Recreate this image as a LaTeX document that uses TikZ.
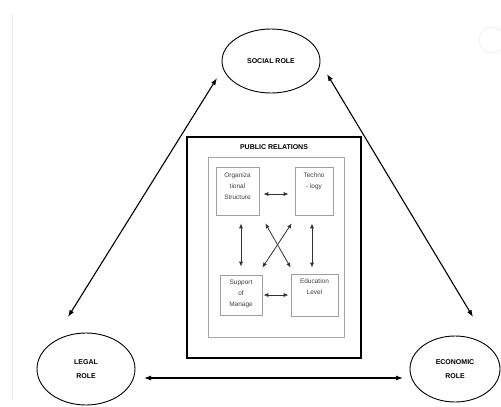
\documentclass[tikz,border=0pt]{standalone}
\usepackage{fontspec}
\setmainfont{Liberation Sans}
\usetikzlibrary{shapes.geometric,arrows.meta}

\tikzset{
  role/.style={draw,ellipse,line width=0.9pt,inner sep=0pt,align=center,
    font=\bfseries\fontsize{7}{14}\selectfont},
  frame/.style={draw,line width=1.4pt,inner sep=0pt},
  panel/.style={draw=gray!70,line width=0.9pt,inner sep=0pt},
  factor/.style={draw=gray!75,line width=0.6pt,inner sep=0pt},
  factortext/.style={anchor=north,align=center,inner sep=0pt,text=black!75,
    font=\fontsize{6.5}{11}\selectfont},
  bigarrow/.style={{Latex[length=7pt,width=5pt]}-{Latex[length=7pt,width=5pt]},line width=1.1pt},
  smallarrow/.style={{Latex[length=5pt,width=4pt]}-{Latex[length=5pt,width=4pt]},line width=0.8pt,draw=black!80}
}

\begin{document}
\begin{tikzpicture}[x=1pt,y=-1pt]
\useasboundingbox (0,0) rectangle (501,407);

% faint scan marks
\draw[gray!15,line width=0.6pt] (12,14) -- (12,400);
\draw[gray!10,line width=1pt] (492,40) circle (13);

% the three roles
\node[role,minimum width=98pt,minimum height=64pt] (social) at (271,61) {SOCIAL ROLE};
\node[role,minimum width=98pt,minimum height=72pt] (legal) at (86,369) {LEGAL\\ROLE};
\node[role,minimum width=90pt,minimum height=66pt] (economic) at (455,369) {ECONOMIC\\ROLE};

% public relations frame
\node[frame,minimum width=174pt,minimum height=221pt] (pr) at (274,247.5) {};
\node[font=\bfseries\fontsize{7}{8}\selectfont,inner sep=0pt] (prtitle) at (274,147) {PUBLIC RELATIONS};
\node[panel,minimum width=136pt,minimum height=180pt] (inner) at (276,247) {};

% factors
\node[factor,minimum width=43pt,minimum height=48pt] (org) at (237.5,191) {};
\node[factor,minimum width=38pt,minimum height=48pt] (tech) at (314,191) {};
\node[factor,minimum width=42pt,minimum height=40pt] (sup) at (241,295) {};
\node[factor,minimum width=47pt,minimum height=42pt] (edu) at (314.5,295) {};

\node[factortext] (orgtxt) at ([yshift=-5.5pt]org.north) {Organiza\\tional\\Structure};
\node[factortext] (techtxt) at ([yshift=-6pt]tech.north) {Techno\\- logy};
\node[factortext] (suptxt) at ([yshift=-5.5pt]sup.north) {Support\\of\\Manage};
\node[factortext] (edutxt) at ([yshift=-4.5pt]edu.north) {Education\\Level};

% links between factors
\draw[smallarrow] ([xshift=4pt,yshift=-3pt]org.east) -- ([xshift=-6pt,yshift=-3pt]tech.west);
\draw[smallarrow] ([xshift=1pt]sup.east) -- ([xshift=-2pt]edu.west);
\draw[smallarrow] ([xshift=3.5pt,yshift=-8pt]org.south) -- ([yshift=8pt]sup.north);
\draw[smallarrow] ([xshift=-2pt,yshift=-8pt]tech.south) -- ([xshift=-2.5pt,yshift=6pt]edu.north);
\draw[smallarrow] ([xshift=6pt,yshift=-8pt]org.south east) -- ([yshift=6pt]edu.north west);
\draw[smallarrow] ([xshift=-3pt,yshift=-8pt]tech.south west) -- ([yshift=7pt]sup.north east);

% links between roles
\coordinate (socL) at (217,78);
\coordinate (legT) at (68,317);
\coordinate (socR) at (327,74);
\coordinate (ecoT) at (473,317);
\coordinate (legR) at (144,378);
\coordinate (ecoL) at (403,378);
\draw[bigarrow] (socL) -- (legT);
\draw[bigarrow] (socR) -- (ecoT);
\draw[bigarrow] (legR) -- (ecoL);

\end{tikzpicture}
\end{document}
